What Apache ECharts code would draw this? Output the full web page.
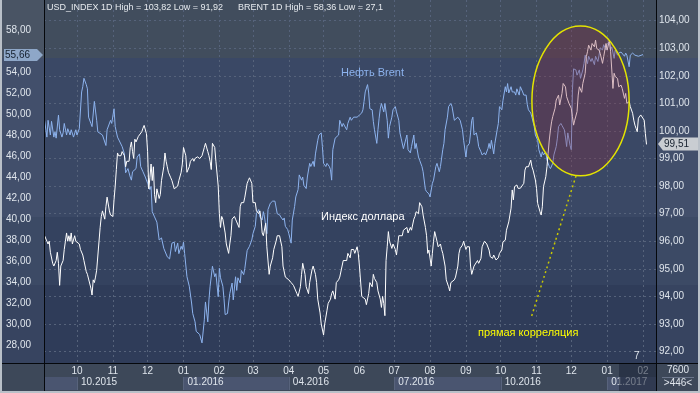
<!DOCTYPE html>
<html><head><meta charset="utf-8">
<script src="https://cdn.jsdelivr.net/npm/echarts@6/dist/echarts.min.js"></script>
<style>html,body{margin:0;padding:0;background:#2f3b55}#c{width:700px;height:393px}</style>
</head><body><div id="c"></div>
<script>
// ---------- DATA ----------
// day offsets are calendar days counted from baseDate
const baseDate = [2015, 9, 1]; // 2015-10-01 (UTC, month 0-based)
const monthTicks = ['2015-10-01','2015-11-01','2015-12-01','2016-01-01','2016-02-01','2016-03-01','2016-04-01','2016-05-01','2016-06-01','2016-07-01','2016-08-01','2016-09-01','2016-10-01','2016-11-01','2016-12-01','2017-01-01','2017-02-01'];
const quarterTicks = ['2015-10-01','2016-01-01','2016-04-01','2016-07-01','2016-10-01','2017-01-01'];
const brentTicks = [28,30,32,34,36,38,40,42,44,46,48,50,52,54,58];
const usdTicks = [92,93,94,95,96,97,98,99,100,101,102,103,104];
const xRangeDays = [-28.5, 500.2];
const brentRange = [26.286, 60.857];
const usdRange = [91.585, 104.747];

const brentData = [
[-28,49.4],[-26,47.8],[-25,49.4],[-23,48.0],[-22,49.3],[-20,47.8],[-19,48.3],[-18,47.7],[-16,49.9],[-15,48.5],
[-13,47.8],[-12,48.2],[-11,49.1],[-9,48.0],[-8,48.6],[-6,48.0],[-5,48.5],[-3,47.8],[-1,48.5],[0,48.0],
[2,48.6],[4,52.1],[5,52.6],[6,53.4],[8,52.8],[9,52.4],[10,49.7],[12,49.1],[13,48.8],[15,51.2],
[17,49.4],[18,48.3],[22,48.0],[25,47.0],[26,48.5],[29,49.4],[30,49.1],[32,50.5],[33,48.8],[35,47.8],
[39,46.9],[41,46.2],[42,44.4],[44,44.8],[46,44.0],[47,43.7],[48,44.5],[51,44.8],[52,45.9],[54,46.2],
[55,45.0],[57,44.5],[59,44.0],[61,43.4],[63,42.8],[64,43.1],[65,40.7],[67,40.2],[69,39.7],[71,38.0],
[73,38.2],[75,37.2],[78,36.4],[80,36.2],[82,37.7],[84,37.8],[85,36.9],[87,37.7],[88,36.7],[90,37.4],
[91,37.1],[92,37.8],[93,36.7],[95,34.5],[97,33.6],[99,32.0],[100,31.0],[102,30.2],[103,29.3],[106,29.0],
[108,28.2],[110,30.4],[111,32.1],[113,30.2],[114,32.3],[115,33.6],[117,35.5],[119,34.5],[120,34.8],[122,32.6],
[123,35.3],[124,34.4],[126,33.6],[127,32.4],[128,30.9],[130,31.0],[131,32.0],[132,32.9],[134,33.9],[135,32.3],
[137,34.5],[138,33.2],[139,34.4],[141,33.9],[142,35.1],[144,34.7],[145,35.3],[147,37.0],[149,37.4],[151,38.0],
[152,38.6],[154,39.3],[155,40.5],[157,40.9],[158,40.2],[160,39.9],[161,40.7],[162,40.2],[164,38.6],[165,40.9],
[167,41.5],[169,41.7],[171,41.7],[173,40.5],[175,40.4],[176,40.2],[178,39.9],[179,40.1],[180,39.3],[182,39.0],
[183,38.6],[185,37.7],[186,39.9],[188,41.2],[189,42.1],[191,42.8],[192,44.2],[194,43.7],[195,44.0],[196,43.2],
[198,42.9],[199,44.0],[201,45.3],[202,45.0],[204,45.5],[205,45.0],[206,46.2],[208,47.5],[209,48.0],[211,48.2],
[212,46.9],[213,45.3],[215,45.0],[216,45.3],[218,45.0],[219,44.7],[220,43.7],[221,46.6],[223,47.7],[224,47.8],
[226,48.0],[227,49.4],[229,48.8],[230,49.1],[233,48.5],[234,49.1],[236,49.7],[237,49.4],[239,49.7],[240,49.6],
[242,49.7],[244,49.9],[246,50.1],[247,50.4],[248,51.2],[249,52.1],[251,52.8],[252,52.0],[253,50.5],[255,50.4],
[256,49.3],[257,48.5],[259,47.2],[260,48.5],[261,49.6],[262,50.5],[263,51.0],[265,50.2],[266,51.0],[268,49.4],
[269,47.7],[270,48.8],[272,49.7],[273,50.4],[275,50.7],[276,50.2],[278,49.4],[279,48.2],[280,47.7],[282,46.7],
[283,46.6],[285,48.0],[286,46.6],[288,46.3],[289,46.9],[291,48.0],[292,46.7],[293,47.2],[295,45.9],[296,45.6],
[298,45.0],[299,44.5],[301,42.8],[302,42.6],[304,42.4],[305,42.1],[306,42.0],[307,43.4],[308,43.7],[310,45.0],
[311,45.3],[313,44.5],[314,45.0],[316,46.6],[317,47.2],[318,48.5],[320,49.7],[321,50.7],[323,51.0],[324,50.7],
[326,49.4],[327,49.3],[329,49.7],[330,49.7],[331,49.4],[333,48.5],[334,47.5],[336,45.9],[337,46.9],[339,47.2],
[340,48.2],[341,49.4],[342,49.7],[343,48.0],[345,48.2],[346,47.7],[347,46.9],[349,46.4],[350,46.1],[352,46.3],
[353,46.1],[355,46.7],[356,47.2],[357,46.7],[358,47.5],[360,46.2],[361,47.2],[363,48.5],[364,49.1],[365,50.7],
[367,50.4],[368,51.3],[370,52.6],[371,52.1],[372,52.9],[373,52.0],[375,52.6],[376,52.1],[378,52.1],[379,51.8],
[380,52.4],[382,51.8],[383,52.6],[385,52.1],[386,51.8],[388,51.8],[389,50.9],[390,50.4],[392,50.1],[393,49.7],
[395,48.8],[396,48.0],[398,47.5],[399,46.6],[401,45.9],[402,46.4],[403,46.1],[405,46.4],[406,45.6],[408,45.0],
[409,44.8],[411,45.3],[412,46.1],[414,46.9],[415,47.7],[416,48.8],[418,49.1],[419,48.9],[421,48.5],[422,47.8],
[423,46.9],[424,48.2],[426,47.0],[427,46.6],[428,52.3],[429,54.3],[431,54.2],[432,53.7],[434,54.2],[435,53.4],
[437,54.2],[438,54.8],[439,55.6],[441,54.8],[442,55.5],[444,55.0],[445,55.3],[447,54.7],[448,55.5],[450,55.0],
[451,55.6],[452,56.3],[454,56.1],[455,56.6],[457,56.1],[458,56.7],[460,56.9],[461,56.1],[462,56.4],[464,55.3],
[465,56.1],[467,55.6],[468,55.8],[470,55.9],[471,55.8],[473,55.5],[474,55.8],[475,55.6],[477,54.5],[478,55.6],
[480,55.8],[482,55.6],[485,55.5],[489,55.66]
];

const usdData = [
[-28,96.2],[-26,96.0],[-25,95.9],[-24,96.0],[-23,95.6],[-21,95.2],[-20,95.1],[-18,95.3],[-17,95.6],[-16,95.2],
[-15,94.4],[-14,95.1],[-13,95.1],[-12,95.3],[-11,95.7],[-10,96.0],[-9,96.3],[-8,96.0],[-7,96.2],[-6,96.0],
[-5,96.3],[-4,95.9],[-2,96.2],[-1,96.0],[0,96.0],[2,95.9],[3,95.7],[5,95.5],[6,95.3],[8,94.9],
[9,94.8],[10,94.8],[12,94.3],[13,94.05],[14,94.6],[15,94.5],[16,94.7],[17,94.95],[18,94.9],[20,96.5],
[21,96.9],[22,97.1],[24,96.8],[25,97.25],[26,97.6],[28,97.1],[29,96.95],[31,96.9],[32,97.5],[33,98.0],
[34,98.6],[35,99.2],[36,99.1],[38,99.1],[39,99.25],[41,99.1],[42,98.7],[43,98.9],[45,98.9],[46,99.4],
[47,99.6],[48,99.25],[49,99.0],[50,99.7],[51,99.6],[53,99.8],[54,99.85],[56,99.97],[57,100.1],[58,100.2],
[60,99.9],[61,99.25],[62,97.9],[63,98.3],[64,98.8],[65,98.2],[66,98.7],[67,97.7],[68,97.4],[69,97.9],
[71,97.55],[72,97.7],[73,98.2],[75,98.7],[76,99.2],[77,98.9],[78,98.7],[79,98.5],[81,98.3],[82,98.2],
[84,97.9],[85,97.9],[87,98.0],[88,98.2],[90,98.5],[91,98.8],[92,99.4],[94,99.1],[95,98.5],[97,98.7],
[98,98.9],[100,99.0],[101,98.9],[102,99.0],[104,99.06],[106,99.0],[108,99.1],[109,99.06],[110,99.4],[111,99.55],
[113,99.25],[114,99.1],[115,98.9],[116,98.6],[117,99.55],[118,99.6],[119,99.4],[120,98.9],[122,98.0],[123,97.0],
[124,96.5],[125,96.9],[126,96.8],[128,96.3],[129,95.9],[131,95.56],[132,95.9],[133,96.2],[134,96.8],[136,96.9],
[137,96.8],[138,96.7],[140,96.5],[141,97.25],[142,97.4],[144,97.4],[145,97.6],[147,98.1],[148,98.2],[149,98.3],
[151,98.1],[152,97.4],[154,97.4],[155,97.1],[157,97.0],[158,97.1],[159,96.8],[160,96.3],[161,96.2],[162,96.2],
[163,96.65],[164,95.8],[166,94.8],[167,95.1],[169,95.4],[170,95.7],[172,96.0],[173,96.2],[175,96.2],[176,96.2],
[177,95.8],[178,95.1],[180,94.7],[181,94.65],[183,94.6],[184,94.6],[185,94.5],[187,94.4],[188,94.35],[190,94.1],
[191,94.0],[193,94.35],[194,94.8],[195,95.2],[197,94.8],[198,94.35],[200,94.1],[201,94.5],[203,94.96],[204,95.1],
[206,94.8],[207,94.5],[208,93.9],[210,93.4],[211,93.0],[213,92.6],[214,93.0],[216,93.5],[217,93.75],[219,93.9],
[220,94.1],[221,94.2],[223,93.9],[224,94.5],[226,94.6],[227,94.7],[229,95.1],[230,95.3],[231,95.3],[233,95.3],
[234,95.56],[236,95.4],[237,95.7],[239,95.7],[240,95.56],[242,95.8],[243,95.56],[244,95.1],[246,94.0],[247,94.0],
[249,93.9],[250,93.7],[252,94.1],[253,94.5],[255,94.35],[256,94.8],[257,94.65],[259,94.5],[260,94.2],[262,93.9],
[263,93.6],[264,94.0],[265,93.75],[266,93.3],[267,95.3],[268,95.8],[269,96.35],[270,96.0],[272,95.74],[273,95.9],
[275,95.7],[276,95.5],[278,96.2],[279,96.2],[281,96.2],[282,96.4],[283,96.4],[285,96.5],[286,96.3],[288,96.5],
[289,96.4],[291,96.8],[292,96.9],[293,97.07],[295,97.0],[296,97.4],[298,97.25],[299,96.95],[301,96.5],[302,96.2],
[303,95.56],[304,95.68],[305,95.74],[306,95.1],[307,95.56],[308,96.0],[309,96.35],[311,96.0],[312,95.8],[314,95.9],
[315,95.7],[316,95.56],[318,95.1],[319,94.6],[321,94.35],[322,94.2],[323,94.5],[324,94.5],[326,94.6],[327,94.7],
[329,95.1],[330,95.56],[331,95.74],[333,95.86],[334,96.0],[336,95.7],[337,95.8],[339,95.8],[340,95.1],[341,94.8],
[343,95.1],[344,95.08],[346,95.3],[347,95.2],[349,95.38],[350,95.8],[352,96.0],[353,96.0],[354,95.9],[356,95.68],
[357,95.44],[359,95.38],[360,95.5],[362,95.32],[363,95.38],[364,95.4],[365,95.56],[367,95.68],[368,95.98],[370,96.04],
[371,96.4],[373,96.7],[374,96.77],[375,97.2],[376,97.86],[377,97.5],[378,97.98],[380,98.04],[381,97.92],[383,97.92],
[384,97.86],[386,98.1],[387,98.58],[388,98.7],[389,98.76],[390,98.7],[392,98.94],[393,98.7],[394,98.58],[396,98.22],
[397,97.92],[398,97.37],[400,97.07],[401,96.95],[402,97.25],[403,97.98],[405,98.34],[406,98.7],[407,99.19],[408,99.67],
[409,100.03],[410,100.33],[411,100.52],[413,100.82],[414,101.12],[416,101.3],[417,100.94],[419,101.36],[420,101.72],[422,101.6],
[423,101.24],[424,101.3],[425,101.0],[427,100.82],[428,100.52],[429,100.21],[430,100.39],[432,100.7],[433,101.3],[434,101.6],
[436,101.4],[437,101.72],[439,102.09],[440,102.69],[441,102.87],[442,103.11],[444,102.93],[445,103.17],[447,103.05],[448,103.29],
[449,102.99],[451,102.93],[452,102.81],[454,102.45],[455,102.69],[457,103.17],[458,102.93],[460,103.29],[461,102.87],[462,102.21],
[463,101.54],[464,102.09],[465,101.97],[467,101.9],[468,101.6],[470,101.66],[471,101.54],[473,101.18],[474,101.36],[475,101.0],
[477,101.06],[478,100.88],[480,100.64],[481,100.39],[482,100.21],[483,100.09],[484,99.97],[485,100.46],[487,100.58],[488,100.52],
[490,100.39],[491,99.91],[492,99.51]
];

const headerTexts = ['USD_INDEX 1D High = 103,82 Low = 91,92', 'BRENT 1D High = 58,36 Low = 27,1'];
const labelTexts = { brent: 'Нефть Brent', usd: 'Индекс доллара', corr: 'прямая корреляция' };
const footerTexts = { count: '7600', range: '>446<', mark: '7' };
// annotation ellipse box (days, USD values) and pointer (days, USD values)
const ellipseBox = { days: [393, 477], usd: [98.37, 103.80] };
const pointer = { from: [392.8, 93.29], to: [431.1, 98.37] };

// ---------- CHART ----------
const DAY = 86400000;
const BASE = Date.UTC(baseDate[0], baseDate[1], baseDate[2]);
const ts = d => BASE + d * DAY;
const parseDay = s => { const p = s.split('-').map(Number); return Date.UTC(p[0], p[1] - 1, p[2]); };
const pad2 = n => String(n).padStart(2, '0');
const comma = v => Number(v).toFixed(2).replace('.', ',');
const FONT = '"Liberation Sans", Arial, sans-serif';
const TXT = '#dfe5ec';
const GRID = '#56637b';

const H = 393;
const bg = new echarts.graphic.LinearGradient(0, 0, 0, 1, [
  {offset: 0, color: '#414d5d'}, {offset: 58 / H, color: '#414d5d'},
  {offset: 58 / H, color: '#3a4865'}, {offset: 217 / H, color: '#3a4865'},
  {offset: 217 / H, color: '#34425f'}, {offset: 285 / H, color: '#34425f'},
  {offset: 285 / H, color: '#2f3c59'}, {offset: 363 / H, color: '#2f3c59'},
  {offset: 363 / H, color: '#3d4859'}, {offset: 1, color: '#3d4859'}
]);

const chart = echarts.init(document.getElementById('c'), null, {renderer: 'canvas'});
const monthTs = monthTicks.map(parseDay);
const quarterTs = quarterTicks.map(parseDay);

const option = {
  animation: false,
  backgroundColor: bg,
  textStyle: {fontFamily: FONT},
  grid: {left: 44, right: 44, top: 0, bottom: 30},
  xAxis: [{
    type: 'value', min: ts(xRangeDays[0]), max: ts(xRangeDays[1]),
    axisLine: {show: false},
    axisTick: {show: false, customValues: monthTs},
    splitLine: {show: true, lineStyle: {color: GRID, type: [2, 3], width: 1}},
    axisLabel: {customValues: monthTs, margin: 3, color: TXT, fontSize: 10, fontFamily: FONT,
      formatter: v => pad2(new Date(v).getUTCMonth() + 1)}
  }, {
    type: 'value', min: ts(xRangeDays[0]), max: ts(xRangeDays[1]), position: 'bottom',
    axisLine: {show: false}, axisTick: {show: false, customValues: quarterTs}, splitLine: {show: false},
    axisLabel: {customValues: quarterTs, margin: 14, color: TXT, fontSize: 10, fontFamily: FONT,
      align: 'left', padding: [0, 0, 0, 4],
      formatter: v => { const d = new Date(v); return pad2(d.getUTCMonth() + 1) + '.' + d.getUTCFullYear(); }}
  }],
  yAxis: [{
    type: 'value', position: 'left', min: brentRange[0], max: brentRange[1],
    axisLine: {show: false}, axisTick: {show: false, customValues: brentTicks}, splitLine: {show: false},
    axisLabel: {customValues: brentTicks, align: 'left', margin: 38, color: TXT, fontSize: 10, fontFamily: FONT, formatter: comma}
  }, {
    type: 'value', position: 'right', min: usdRange[0], max: usdRange[1],
    axisLine: {show: false}, axisTick: {show: false, customValues: usdTicks},
    splitLine: {show: true, lineStyle: {color: GRID, type: [2, 3], width: 1}},
    axisLabel: {customValues: usdTicks, align: 'left', margin: 3, color: TXT, fontSize: 10, fontFamily: FONT, formatter: comma}
  }],
  series: [{
    type: 'line', name: 'Brent', xAxisIndex: 0, yAxisIndex: 0, silent: true,
    data: brentData.map(p => [ts(p[0]), p[1]]), showSymbol: false, symbol: 'none',
    lineStyle: {color: '#8db3ee', width: 1}, emphasis: {disabled: true}, z: 3
  }, {
    type: 'line', name: 'USD_INDEX', xAxisIndex: 0, yAxisIndex: 1, silent: true,
    data: usdData.map(p => [ts(p[0]), p[1]]), showSymbol: false, symbol: 'none',
    lineStyle: {color: '#ffffff', width: 1}, emphasis: {disabled: true}, z: 4
  }]
};
chart.setOption(option);

// ---------- DECORATION (positions derived from the chart's scales) ----------
const pB = (d, v) => chart.convertToPixel({seriesIndex: 0}, [ts(d), v]);
const pU = (d, v) => chart.convertToPixel({seriesIndex: 1}, [ts(d), v]);
const gx = t => chart.convertToPixel({xAxisIndex: 0}, t);
const L = chart.convertToPixel({xAxisIndex: 0}, ts(xRangeDays[0]));
const R = chart.convertToPixel({xAxisIndex: 0}, ts(xRangeDays[1]));
const B = chart.convertToPixel({yAxisIndex: 1}, usdRange[0]);
const W = 700;

const g = [];
// axis column tint
g.push({type: 'rect', z: -1, shape: {x: 0, y: 0, width: L, height: B}, style: {fill: 'rgba(255,255,255,0.045)'}});
g.push({type: 'rect', z: -1, shape: {x: R, y: 0, width: W - R, height: B}, style: {fill: 'rgba(255,255,255,0.045)'}});
// quarter bands in the bottom strip
const qEdges = [L].concat(quarterTs.map(gx)).concat([R]);
for (let i = 0; i < qEdges.length - 1; i++) {
  if (i % 2 === 0) {
    g.push({type: 'rect', z: -1, shape: {x: qEdges[i], y: B + 14, width: qEdges[i + 1] - qEdges[i], height: 13}, style: {fill: '#4a5570'}});
  }
  if (i > 0) g.push({type: 'rect', z: -1, shape: {x: Math.round(qEdges[i]), y: B + 14, width: 1, height: 13}, style: {fill: '#58637c'}});
}
// dim overlay at the right end of the time strip
g.push({type: 'rect', z: 20, shape: {x: R - 37, y: B + 1, width: 37, height: H - B - 1}, style: {fill: 'rgba(28,36,56,0.55)'}});
// frame lines
g.push({type: 'rect', z: 30, shape: {x: L, y: 0, width: 1, height: H}, style: {fill: '#05080c'}});
g.push({type: 'rect', z: 30, shape: {x: R, y: 0, width: 1, height: H}, style: {fill: '#05080c'}});
g.push({type: 'rect', z: 30, shape: {x: 0, y: B, width: W, height: 1}, style: {fill: '#05080c'}});
// outer light border
g.push({type: 'rect', z: 31, shape: {x: 0, y: 0, width: 2, height: H}, style: {fill: '#b9c0c8'}});
g.push({type: 'rect', z: 31, shape: {x: W - 2, y: 0, width: 2, height: H}, style: {fill: '#b9c0c8'}});
g.push({type: 'rect', z: 31, shape: {x: 0, y: H - 2, width: W, height: 2}, style: {fill: '#b9c0c8'}});

// ellipse annotation
const e1 = pU(ellipseBox.days[0], ellipseBox.usd[1]);
const e2 = pU(ellipseBox.days[1], ellipseBox.usd[0]);
g.push({type: 'ellipse', z: 12, shape: {cx: (e1[0] + e2[0]) / 2, cy: (e1[1] + e2[1]) / 2, rx: (e2[0] - e1[0]) / 2, ry: (e2[1] - e1[1]) / 2},
  style: {fill: 'rgba(140,40,60,0.3)', stroke: '#e4e400', lineWidth: 1.5}});
const pf = pU(pointer.from[0], pointer.from[1]), pt = pU(pointer.to[0], pointer.to[1]);
g.push({type: 'line', z: 12, shape: {x1: pf[0], y1: pf[1], x2: pt[0], y2: pt[1]},
  style: {stroke: '#c8c800', lineWidth: 1.5, lineDash: [2, 3]}});

// text labels
const T = (text, x, y, fill, extra) => ({type: 'text', z: 15, style: Object.assign({text, x, y, fill, font: '10px ' + FONT, verticalAlign: 'middle', align: 'left'}, extra || {})});
g.push(T(headerTexts[0], 47, 8, '#e6eaee', {font: '9px ' + FONT}));
g.push(T(headerTexts[1], 238, 8, '#e6eaee', {font: '9px ' + FONT}));
g.push(T(labelTexts.brent, 341, 73, '#8db3ee', {font: '11px ' + FONT}));
g.push(T(labelTexts.usd, 321, 217, '#ffffff', {font: '11px ' + FONT}));
g.push(T(labelTexts.corr, 478, 333, '#ffff00', {font: '11px ' + FONT}));
g.push(T(footerTexts.mark, 634, 356, TXT));
g.push(T(footerTexts.count, (R + W) / 2, 370, TXT, {align: 'center'}));
g.push({type: 'rect', z: 15, shape: {x: R + 6, y: 377, width: W - R - 12, height: 1}, style: {fill: '#6a758a'}});
g.push(T(footerTexts.range, (R + W) / 2, 383, TXT, {align: 'center'}));

// last-value markers
const brentLast = brentData[brentData.length - 1][1];
const usdLast = usdData[usdData.length - 1][1];
const yb = Math.round(pB(0, brentLast)[1]);
g.push({type: 'polygon', z: 16, shape: {points: [[4, yb - 6], [37, yb - 6], [43, yb], [37, yb + 6], [4, yb + 6]]}, style: {fill: '#8ea7c8'}});
g.push(Object.assign(T(comma(brentLast), 5, yb, '#16202e'), {z: 17}));
const yu = Math.round(pU(0, usdLast)[1]);
g.push({type: 'polygon', z: 16, shape: {points: [[R + 2, yu], [R + 7, yu - 6.5], [W, yu - 6.5], [W, yu + 6.5], [R + 7, yu + 6.5]]}, style: {fill: '#c9cdd2'}});
g.push(Object.assign(T(comma(usdLast), R + 8, yu, '#16202e'), {z: 17}));

chart.setOption({graphic: {elements: g}});
</script>
</body></html>
